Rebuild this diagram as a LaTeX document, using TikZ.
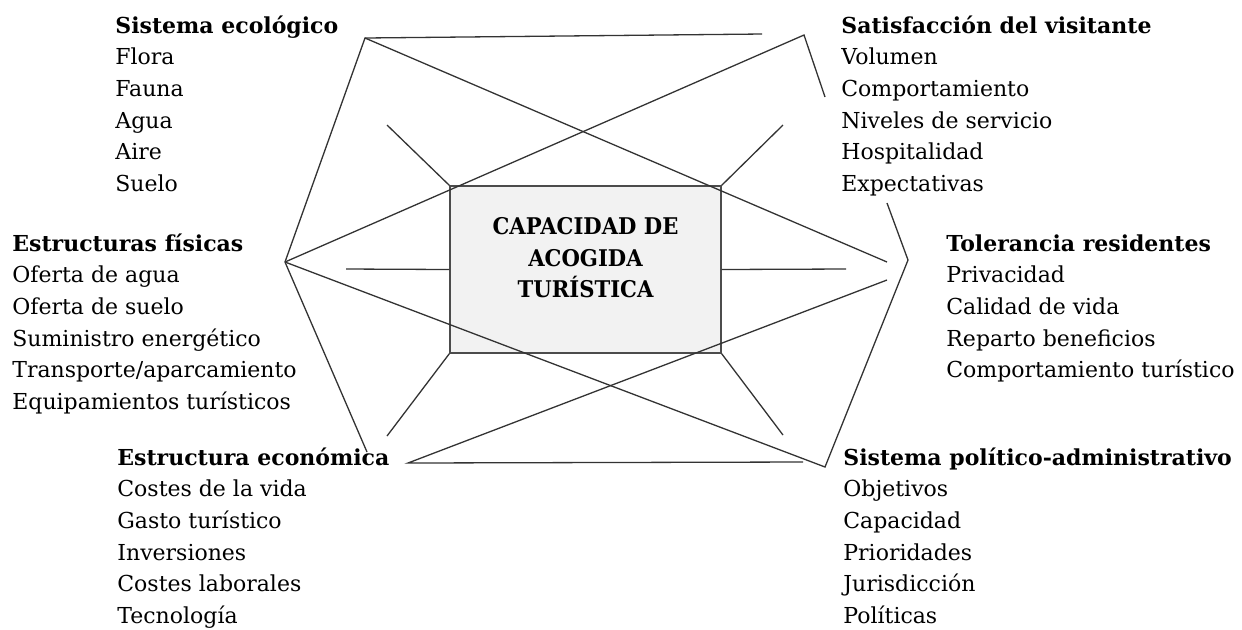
\documentclass[tikz,border=0pt]{standalone}
\usepackage{fontspec}
\setmainfont{DejaVu Serif}
\newfontfamily\capfont[FakeStretch=0.92]{DejaVu Serif}
\usetikzlibrary{positioning}

\begin{document}
\begin{tikzpicture}[x=0.5pt, y=-0.5pt,
  head/.style={anchor=base west, inner sep=0pt, text height=10.85pt, text depth=4.6pt, font=\fontsize{11pt}{13pt}\selectfont\bfseries},
  item/.style={anchor=north west, inner sep=0pt, text height=10.85pt, text depth=4.6pt, font=\fontsize{11pt}{13pt}\selectfont},
  edge/.style={draw=black!80, line width=0.65pt},
  box/.style={draw=black!70, fill=black!5, line width=0.65pt, minimum width=135.5pt, minimum height=83.5pt}]

  \useasboundingbox (0,0) rectangle (1242,629);

  % Central box
  \node[box] (cap) at (585.5,269.5) {};
  \node[align=center, font=\fontsize{11.5pt}{15.75pt}\selectfont\capfont\bfseries] (title) at (585.5,258) {CAPACIDAD DE\\ACOGIDA\\TURÍSTICA};

  % Corner points
  \coordinate (TL) at (365,38);
  \coordinate (TE) at (762,34);
  \coordinate (TR) at (804,35);
  \coordinate (TRE) at (825,97);
  \coordinate (L) at (285,262);
  \coordinate (LL) at (367,452);
  \coordinate (R) at (908,260);
  \coordinate (RU) at (887,203);
  \coordinate (BR) at (825,467);
  \coordinate (BL) at (408,463);
  \coordinate (BE) at (803,462);
  \coordinate (D1) at (887,262);
  \coordinate (D2) at (887,280);

  % Outer lines
  \draw[edge] (TE) -- (TL) -- (L) -- (LL);
  \draw[edge] (TRE) -- (TR) -- (L);
  \draw[edge] (TL) -- (D1);
  \draw[edge] (RU) -- (R) -- (BR) -- (L);
  \draw[edge] (BE) -- (BL) -- (D2);

  % Spoke ends
  \coordinate (S1) at (387,125);
  \coordinate (S2) at (783,125);
  \coordinate (S3) at (346,269);
  \coordinate (S4) at (846,269);
  \coordinate (S5) at (387,436);
  \coordinate (S6) at (783,435);

  % Spokes
  \draw[edge] (cap.north west) -- (S1);
  \draw[edge] (cap.north east) -- (S2);
  \draw[edge] (cap.west) -- (S3);
  \draw[edge] (cap.east) -- (S4);
  \draw[edge] (cap.south west) -- (S5);
  \draw[edge] (cap.south east) -- (S6);

  % Sistema ecologico
  \node[head] (eco) at (115,33) {Sistema ecológico};
  \node[item] (eco1) at (eco.south west) {Flora};
  \node[item] (eco2) at (eco1.south west) {Fauna};
  \node[item] (eco3) at (eco2.south west) {Agua};
  \node[item] (eco4) at (eco3.south west) {Aire};
  \node[item] (eco5) at (eco4.south west) {Suelo};

  % Satisfaccion del visitante
  \node[head] (sat) at (841,33) {Satisfacción del visitante};
  \node[item] (sat1) at (sat.south west) {Volumen};
  \node[item] (sat2) at (sat1.south west) {Comportamiento};
  \node[item] (sat3) at (sat2.south west) {Niveles de servicio};
  \node[item] (sat4) at (sat3.south west) {Hospitalidad};
  \node[item] (sat5) at (sat4.south west) {Expectativas};

  % Estructuras fisicas
  \node[head] (fis) at (12,251) {Estructuras físicas};
  \node[item] (fis1) at (fis.south west) {Oferta de agua};
  \node[item] (fis2) at (fis1.south west) {Oferta de suelo};
  \node[item] (fis3) at (fis2.south west) {Suministro energético};
  \node[item] (fis4) at (fis3.south west) {Transporte/aparcamiento};
  \node[item] (fis5) at (fis4.south west) {Equipamientos turísticos};

  % Tolerancia residentes
  \node[head] (tol) at (946,251) {Tolerancia residentes};
  \node[item] (tol1) at (tol.south west) {Privacidad};
  \node[item] (tol2) at (tol1.south west) {Calidad de vida};
  \node[item] (tol3) at (tol2.south west) {Reparto beneficios};
  \node[item] (tol4) at (tol3.south west) {Comportamiento turístico};

  % Estructura economica
  \node[head] (ecn) at (117,465) {Estructura económica};
  \node[item] (ecn1) at (ecn.south west) {Costes de la vida};
  \node[item] (ecn2) at (ecn1.south west) {Gasto turístico};
  \node[item] (ecn3) at (ecn2.south west) {Inversiones};
  \node[item] (ecn4) at (ecn3.south west) {Costes laborales};
  \node[item] (ecn5) at (ecn4.south west) {Tecnología};

  % Sistema politico-administrativo
  \node[head] (pol) at (843,465) {Sistema político-administrativo};
  \node[item] (pol1) at (pol.south west) {Objetivos};
  \node[item] (pol2) at (pol1.south west) {Capacidad};
  \node[item] (pol3) at (pol2.south west) {Prioridades};
  \node[item] (pol4) at (pol3.south west) {Jurisdicción};
  \node[item] (pol5) at (pol4.south west) {Políticas};

\end{tikzpicture}
\end{document}
